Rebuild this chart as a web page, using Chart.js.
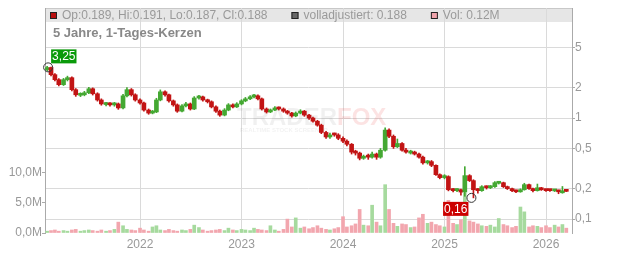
<!DOCTYPE html>
<html>
<head>
<meta charset="utf-8">
<script src="https://cdn.jsdelivr.net/npm/chart.js@4/dist/chart.umd.min.js"></script>
<style>
  html, body { margin: 0; padding: 0; background: #fff; }
  #chart { display: block; }
</style>
</head>
<body>
<canvas id="chart" width="632" height="253"></canvas>
<script>
// Kerzen (halbmonatlich zusammengefasst)
const dates = [
  '2021-02-01','2021-02-15','2021-03-01','2021-03-15','2021-04-01','2021-04-15','2021-05-01','2021-05-15','2021-06-01','2021-06-15','2021-07-01','2021-07-15',
  '2021-08-01','2021-08-15','2021-09-01','2021-09-15','2021-10-01','2021-10-15','2021-11-01','2021-11-15','2021-12-01','2021-12-15',
  '2022-01-01','2022-01-15','2022-02-01','2022-02-15','2022-03-01','2022-03-15','2022-04-01','2022-04-15','2022-05-01','2022-05-15','2022-06-01','2022-06-15',
  '2022-07-01','2022-07-15','2022-08-01','2022-08-15','2022-09-01','2022-09-15','2022-10-01','2022-10-15','2022-11-01','2022-11-15','2022-12-01','2022-12-15',
  '2023-01-01','2023-01-15','2023-02-01','2023-02-15','2023-03-01','2023-03-15','2023-04-01','2023-04-15','2023-05-01','2023-05-15','2023-06-01','2023-06-15',
  '2023-07-01','2023-07-15','2023-08-01','2023-08-15','2023-09-01','2023-09-15','2023-10-01','2023-10-15','2023-11-01','2023-11-15','2023-12-01','2023-12-15',
  '2024-01-01','2024-01-15','2024-02-01','2024-02-15','2024-03-01','2024-03-15','2024-04-01','2024-04-15','2024-05-01','2024-05-15','2024-06-01','2024-06-15',
  '2024-07-01','2024-07-15','2024-08-01','2024-08-15','2024-09-01','2024-09-15','2024-10-01','2024-10-15','2024-11-01','2024-11-15','2024-12-01','2024-12-15',
  '2025-01-01','2025-01-15','2025-02-01','2025-02-15','2025-03-01','2025-03-15','2025-04-01','2025-04-15','2025-05-01','2025-05-15','2025-06-01','2025-06-15',
  '2025-07-01','2025-07-15','2025-08-01','2025-08-15','2025-09-01','2025-09-15','2025-10-01','2025-10-15','2025-11-01','2025-11-15','2025-12-01','2025-12-15',
  '2026-01-01','2026-01-15','2026-02-01','2026-02-15','2026-03-01','2026-03-15'
];

const opens = [
  3.02, 3.16, 2.69, 2.40, 2.14, 2.40, 2.51, 1.91, 1.68, 1.70, 1.78, 1.95, 1.74, 1.51, 1.36, 1.38, 1.35, 1.38, 1.26, 1.66, 1.91, 1.70,
  1.51, 1.41, 1.20, 1.12, 1.15, 1.51, 1.82, 1.70, 1.48, 1.35, 1.17, 1.32, 1.38, 1.23, 1.58, 1.62, 1.51, 1.45, 1.29, 1.17, 1.07, 1.20, 1.35, 1.29,
  1.38, 1.48, 1.55, 1.62, 1.66, 1.55, 1.23, 1.15, 1.20, 1.26, 1.23, 1.17, 1.12, 1.05, 1.12, 1.17, 1.07, 1.00, 0.93, 0.85, 0.72, 0.65, 0.69, 0.68,
  0.63, 0.59, 0.55, 0.46, 0.45, 0.40, 0.42, 0.41, 0.44, 0.41, 0.48, 0.76, 0.66, 0.52, 0.56, 0.48, 0.45, 0.46, 0.44, 0.41, 0.36, 0.37, 0.34, 0.275,
  0.257, 0.263, 0.195, 0.191, 0.195, 0.185, 0.269, 0.240, 0.195, 0.191, 0.209, 0.204, 0.209, 0.226, 0.229, 0.209, 0.200, 0.191, 0.186, 0.195, 0.219, 0.200, 0.191, 0.204,
  0.195, 0.193, 0.190, 0.191, 0.182, 0.189
];
const highs = [
  3.25, 3.20, 2.75, 2.46, 2.47, 2.60, 2.56, 1.96, 1.78, 1.84, 2.02, 1.99, 1.78, 1.55, 1.43, 1.42, 1.43, 1.41, 1.72, 2.00, 1.96, 1.74,
  1.55, 1.44, 1.23, 1.19, 1.57, 1.90, 1.86, 1.73, 1.51, 1.38, 1.36, 1.43, 1.41, 1.63, 1.68, 1.65, 1.54, 1.48, 1.32, 1.20, 1.24, 1.39, 1.38, 1.42,
  1.52, 1.60, 1.67, 1.72, 1.70, 1.58, 1.26, 1.23, 1.30, 1.29, 1.26, 1.19, 1.14, 1.15, 1.21, 1.19, 1.09, 1.02, 0.95, 0.87, 0.74, 0.71, 0.71, 0.70,
  0.65, 0.61, 0.56, 0.48, 0.46, 0.43, 0.44, 0.46, 0.45, 0.50, 0.80, 0.78, 0.68, 0.62, 0.57, 0.50, 0.48, 0.47, 0.45, 0.42, 0.38, 0.38, 0.345, 0.28,
  0.275, 0.268, 0.20, 0.20, 0.198, 0.33, 0.275, 0.245, 0.20, 0.214, 0.213, 0.215, 0.235, 0.236, 0.232, 0.212, 0.203, 0.194, 0.199, 0.226, 0.222, 0.203, 0.222, 0.206,
  0.198, 0.195, 0.194, 0.193, 0.21, 0.191
];
const lows = [
  2.95, 2.62, 2.33, 2.08, 2.10, 2.33, 1.86, 1.64, 1.63, 1.66, 1.74, 1.69, 1.47, 1.34, 1.32, 1.31, 1.31, 1.22, 1.23, 1.62, 1.65, 1.47,
  1.37, 1.17, 1.09, 1.10, 1.13, 1.48, 1.65, 1.44, 1.31, 1.14, 1.15, 1.29, 1.20, 1.21, 1.54, 1.47, 1.41, 1.26, 1.14, 1.04, 1.05, 1.18, 1.26, 1.27,
  1.35, 1.45, 1.52, 1.58, 1.51, 1.20, 1.12, 1.13, 1.18, 1.20, 1.14, 1.09, 1.02, 1.03, 1.10, 1.04, 0.97, 0.91, 0.83, 0.70, 0.63, 0.63, 0.66, 0.61,
  0.57, 0.53, 0.44, 0.43, 0.385, 0.39, 0.39, 0.40, 0.39, 0.40, 0.47, 0.64, 0.50, 0.51, 0.47, 0.45, 0.44, 0.43, 0.40, 0.35, 0.35, 0.33, 0.27, 0.25,
  0.25, 0.19, 0.186, 0.187, 0.172, 0.168, 0.235, 0.162, 0.18, 0.188, 0.198, 0.20, 0.205, 0.222, 0.205, 0.196, 0.187, 0.182, 0.184, 0.193, 0.196, 0.186, 0.189, 0.192,
  0.188, 0.188, 0.187, 0.178, 0.18, 0.187
];
const closes = [
  3.16, 2.69, 2.40, 2.14, 2.40, 2.51, 1.91, 1.70, 1.70, 1.78, 1.95, 1.74, 1.51, 1.38, 1.38, 1.35, 1.38, 1.26, 1.66, 1.91, 1.70, 1.51,
  1.41, 1.20, 1.12, 1.15, 1.51, 1.82, 1.70, 1.48, 1.35, 1.17, 1.32, 1.38, 1.23, 1.58, 1.62, 1.51, 1.45, 1.29, 1.17, 1.07, 1.20, 1.35, 1.29, 1.38,
  1.48, 1.55, 1.62, 1.66, 1.55, 1.23, 1.15, 1.20, 1.26, 1.23, 1.17, 1.12, 1.05, 1.12, 1.17, 1.07, 1.00, 0.93, 0.85, 0.72, 0.65, 0.68, 0.68, 0.63,
  0.59, 0.55, 0.46, 0.45, 0.40, 0.41, 0.41, 0.44, 0.41, 0.48, 0.76, 0.66, 0.52, 0.56, 0.48, 0.46, 0.46, 0.44, 0.41, 0.36, 0.37, 0.34, 0.275, 0.257,
  0.263, 0.195, 0.191, 0.195, 0.185, 0.269, 0.240, 0.195, 0.191, 0.209, 0.204, 0.209, 0.229, 0.229, 0.209, 0.200, 0.191, 0.186, 0.195, 0.219, 0.200, 0.191, 0.204, 0.195,
  0.191, 0.191, 0.191, 0.186, 0.186, 0.188
];
// Volumen in Mio. Stück
const volumes = [
  0.3, 0.4, 0.5, 0.3, 0.4, 0.3, 0.5, 0.6, 0.3, 0.4, 0.5, 0.4, 0.3, 0.5, 0.3, 0.4, 0.6, 1.8, 1.2, 0.6, 0.5, 0.4,
  0.8, 0.5, 0.3, 1.0, 1.2, 0.5, 0.4, 0.6, 0.4, 0.3, 0.5, 0.4, 0.6, 1.3, 0.9, 0.5, 0.3, 0.4, 0.5, 0.6, 0.4, 0.8, 0.5, 0.4,
  0.6, 0.5, 0.4, 0.8, 0.6, 0.5, 0.4, 1.2, 0.5, 0.3, 0.6, 2.3, 1.0, 2.5, 0.8, 1.0, 0.7, 0.9, 1.2, 0.8, 0.6, 0.5, 0.7, 0.9,
  2.7, 1.0, 1.2, 1.5, 3.9, 1.3, 1.2, 4.6, 1.8, 1.2, 8.0, 3.9, 1.6, 1.1, 1.5, 1.4, 0.9, 1.0, 2.5, 3.1, 1.6, 1.8, 1.4, 1.2,
  1.0, 5.4, 1.6, 1.4, 2.2, 6.6, 2.0, 1.8, 1.5, 1.2, 1.1, 1.3, 1.0, 2.4, 1.4, 1.2, 0.9, 1.1, 4.3, 3.5, 1.0, 1.2, 1.1, 0.9,
  1.2, 0.9, 1.3, 1.0, 1.4, 0.8
];

const yearTicks = [2022, 2023, 2024, 2025, 2026];
const priceTicks = [0.1, 0.2, 0.5, 1, 2, 5];
const volumeTicks = [0, 5, 10];

const chartTitle = '5 Jahre, 1-Tages-Kerzen';
const legendTexts = ['Op:0.189, Hi:0.191, Lo:0.187, Cl:0.188', 'volladjustiert: 0.188', 'Vol: 0.12M'];
const legendColors = ['#b81010', '#666666', '#f0a3ab'];

const FONT = '"Liberation Sans", Arial, sans-serif';
const RED = '#c21414';
const GREEN = '#44a832';
const VOL_RED = '#f2a6ae';
const VOL_GREEN = '#a6da9e';

// Datum -> Jahr als Dezimalzahl
function toYear(s) {
  const d = new Date(s + 'T00:00:00Z');
  const y = d.getUTCFullYear();
  const start = Date.UTC(y, 0, 1);
  const end = Date.UTC(y + 1, 0, 1);
  return y + (d.getTime() - start) / (end - start);
}

const xs = dates.map(toYear);
const up = closes.map((c, i) => c >= opens[i]);
const fmt = v => String(v).replace('.', ',');

const decor = {
  id: 'decor',
  beforeDraw(chart) {
    const { ctx, chartArea: a } = chart;
    ctx.save();
    ctx.fillStyle = '#e6e6e6';
    ctx.fillRect(a.left, a.top, a.right - a.left, 14);
    ctx.strokeStyle = '#c8c8c8';
    ctx.lineWidth = 1;
    ctx.beginPath();
    ctx.moveTo(a.left, a.top + 0.5);
    ctx.lineTo(a.right, a.top + 0.5);
    ctx.stroke();
    ctx.restore();
  },
  beforeDatasetsDraw(chart) {
    // Wasserzeichen
    const { ctx } = chart;
    ctx.save();
    ctx.textBaseline = 'alphabetic';
    ctx.font = 'bold 24px ' + FONT;
    ctx.fillStyle = 'rgba(0,0,0,0.06)';
    ctx.fillText('TRADER', 237, 125);
    const w = ctx.measureText('TRADER').width;
    ctx.fillStyle = 'rgba(235,70,70,0.15)';
    ctx.fillText('FOX', 237 + w, 125);
    ctx.font = 'bold 6px ' + FONT;
    ctx.fillStyle = 'rgba(0,0,0,0.06)';
    ctx.fillText('REALTIME STOCK SCREENER', 240, 132);
    ctx.restore();
  },
  afterDraw(chart) {
    const { ctx, chartArea: a, scales } = chart;
    ctx.save();

    // Legende
    ctx.font = '12px ' + FONT;
    ctx.textBaseline = 'middle';
    let lx = a.left + 5;
    legendTexts.forEach((t, i) => {
      ctx.fillStyle = legendColors[i];
      ctx.fillRect(lx, 12, 7, 7);
      ctx.strokeStyle = '#222';
      ctx.lineWidth = 1;
      ctx.strokeRect(lx + 0.5, 12.5, 6, 6);
      ctx.fillStyle = '#9a9a9a';
      ctx.fillText(t, lx + 12, 15.5);
      lx += 12 + ctx.measureText(t).width + 24;
    });

    // Titel
    ctx.font = 'bold 13px ' + FONT;
    ctx.fillStyle = '#888';
    ctx.fillText(chartTitle, a.left + 8, 33.5);

    // Hoch / Tief markieren
    let hi = 0, lo = 0;
    highs.forEach((v, i) => { if (v > highs[hi]) hi = i; });
    lows.forEach((v, i) => { if (v < lows[lo]) lo = i; });

    const mark = (px, py) => {
      ctx.beginPath();
      ctx.arc(px, py, 4.5, 0, Math.PI * 2);
      ctx.strokeStyle = '#333';
      ctx.lineWidth = 1;
      ctx.stroke();
    };
    const badge = (text, bx, by, color) => {
      ctx.font = '12px ' + FONT;
      const tw = ctx.measureText(text).width;
      ctx.fillStyle = color;
      ctx.fillRect(bx, by, tw + 2, 14);
      ctx.fillStyle = '#fff';
      ctx.textBaseline = 'middle';
      ctx.fillText(text, bx + 1, by + 7.5);
    };

    const hx = scales.x.getPixelForValue(xs[hi]);
    const hy = scales.y.getPixelForValue(highs[hi]);
    mark(hx + 1, hy + 1);
    badge(highs[hi].toFixed(2).replace('.', ','), hx + 4, hy - 17, '#0a9a0a');

    const lx2 = scales.x.getPixelForValue(xs[lo]);
    const ly2 = scales.y.getPixelForValue(lows[lo]);
    mark(lx2 - 2, ly2);
    ctx.font = '12px ' + FONT;
    const lt = lows[lo].toFixed(2).replace('.', ',');
    const lw = ctx.measureText(lt).width + 2;
    badge(lt, lx2 - 5 - lw, ly2 + 4, '#cc0000');

    ctx.restore();
  }
};

new Chart(document.getElementById('chart'), {
  type: 'bar',
  data: {
    datasets: [
      {
        label: 'Körper',
        data: xs.map((x, i) => ({ x, y: [opens[i], closes[i]] })),
        backgroundColor: up.map(u => (u ? GREEN : RED)),
        barThickness: 4,
        minBarLength: 2,
        grouped: false,
        yAxisID: 'y',
        order: 1
      },
      {
        label: 'Docht',
        data: xs.map((x, i) => ({ x, y: [lows[i], highs[i]] })),
        backgroundColor: up.map(u => (u ? GREEN : RED)),
        barThickness: 1,
        minBarLength: 1,
        grouped: false,
        yAxisID: 'y',
        order: 2
      },
      {
        label: 'Volumen',
        data: xs.map((x, i) => ({ x, y: volumes[i] })),
        backgroundColor: up.map(u => (u ? VOL_GREEN : VOL_RED)),
        barThickness: 3,
        grouped: false,
        yAxisID: 'yv',
        order: 3
      }
    ]
  },
  options: {
    responsive: false,
    animation: false,
    layout: { padding: { top: 8, left: 0, right: 0, bottom: 0 } },
    plugins: { legend: { display: false }, tooltip: { enabled: false } },
    scales: {
      x: {
        type: 'linear',
        min: 2021.064,
        max: 2026.256,
        offset: false,
        afterBuildTicks: s => { s.ticks = yearTicks.map(v => ({ value: v })); },
        afterFit: s => { s.height = 20; },
        grid: { color: '#dadada', offset: false, drawTicks: false },
        border: { display: false },
        ticks: {
          color: '#999',
          font: { size: 12, family: FONT },
          padding: 4,
          maxRotation: 0,
          autoSkip: false,
          callback: v => String(v)
        }
      },
      y: {
        type: 'logarithmic',
        position: 'right',
        min: 0.0727,
        max: 12.3,
        afterBuildTicks: s => { s.ticks = priceTicks.map(v => ({ value: v })); },
        afterFit: s => { s.width = 60; },
        grid: { color: '#dadada', tickColor: '#aaa', tickLength: 3 },
        border: { color: '#aaa' },
        ticks: {
          color: '#999',
          font: { size: 12, family: FONT },
          padding: 0,
          autoSkip: false,
          callback: v => fmt(v)
        }
      },
      yv: {
        type: 'linear',
        position: 'left',
        min: 0,
        max: 37.25,
        afterBuildTicks: s => { s.ticks = volumeTicks.map(v => ({ value: v })); },
        afterFit: s => { s.width = 45; },
        grid: { drawOnChartArea: false, tickColor: '#aaa', tickLength: 3 },
        border: { color: '#aaa' },
        ticks: {
          color: '#999',
          font: { size: 12, family: FONT },
          padding: 0,
          autoSkip: false,
          callback: v => v.toFixed(1).replace('.', ',') + 'M'
        }
      }
    }
  },
  plugins: [decor]
});
</script>
</body>
</html>
